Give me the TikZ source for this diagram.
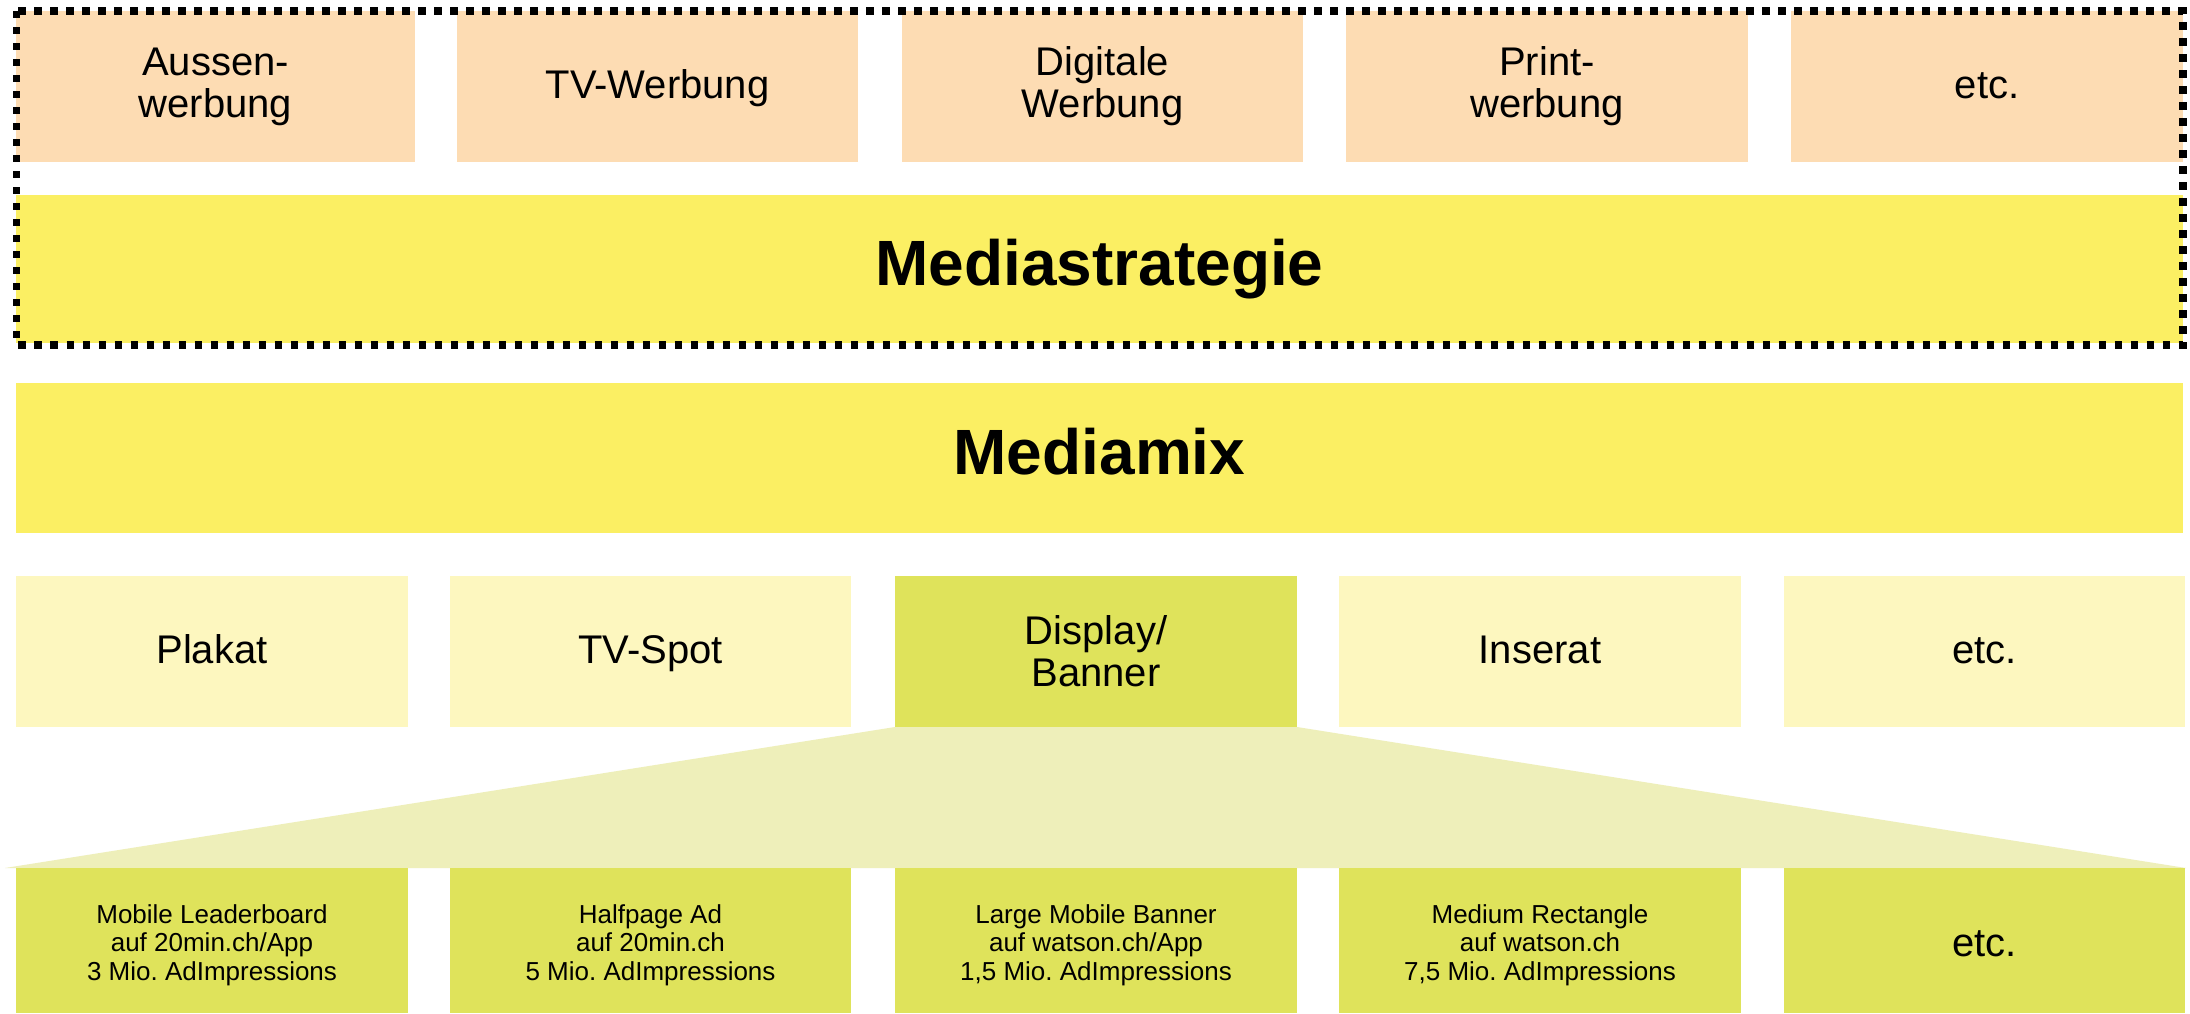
\documentclass[tikz,border=0pt]{standalone}
\usepackage{fontspec}
\setmainfont{Liberation Sans}
\frenchspacing
\definecolor{cOrange}{HTML}{FDDCB3}
\definecolor{cYellow}{HTML}{FBEF63}
\definecolor{cLight}{HTML}{FDF7BF}
\definecolor{cLime}{HTML}{DFE35B}
\definecolor{cTrap}{HTML}{EEEFBA}
\newcommand{\smalllines}[1]{\raisebox{-2.8pt}[\height][\depth]{\begin{tabular}{@{}c@{}}#1\end{tabular}}}
\begin{document}
\begin{tikzpicture}[x=0.5pt,y=-0.5pt,
  box/.style={rectangle, inner sep=0pt, outer sep=0pt, align=center, text=black,
    font=\fontsize{20}{21}\selectfont},
  oneline/.style={text height=16pt, text depth=4pt},
  toprow/.style={box, fill=cOrange, minimum height=75.5pt},
  midrow/.style={box, fill=cLight, minimum height=75.5pt},
  botrow/.style={box, fill=cLime, minimum height=72.5pt},
  small/.style={align=none, font=\fontsize{13}{14.3}\selectfont},
  band/.style={box, text height=23pt, text depth=6.4pt, fill=cYellow, minimum width=1083.5pt, font=\fontsize{32}{34}\selectfont\bfseries},
  dotframe/.style={draw=black, line width=3.6pt, dash pattern=on 3.6pt off 4.4pt}
]
\useasboundingbox (0,0) rectangle (2190,1013);
\fill[white] (0,0) rectangle (2190,1013);

% top row
\node[toprow, minimum width=199.5pt] (t1) at (215.5,86.5) {Aussen-\\werbung};
\node[toprow, oneline, minimum width=200.5pt] (t2) at (657.5,86.5) {TV-Werbung};
\node[toprow, minimum width=200.5pt] (t3) at (1102.5,86.5) {Digitale\\Werbung};
\node[toprow, minimum width=201pt] (t4) at (1547,86.5) {Print-\\werbung};
\node[toprow, oneline, minimum width=196pt] (t5) at (1987,86.5) {etc.};

% bands
\node[band, minimum height=74pt] (strat) at (1099.5,269) {Mediastrategie};
\node[band, minimum height=75pt] (mix) at (1099.5,458) {Mediamix};

% dotted frame
\coordinate (f1) at (16.5,11);
\coordinate (f2) at (2183,345);
\draw[dotframe] (f1) rectangle (f2);

% middle row
\node[midrow, oneline, minimum width=196pt] (m1) at (212,651.5) {Plakat};
\node[midrow, oneline, minimum width=200.5pt] (m2) at (650.5,651.5) {TV-Spot};
\node[midrow, fill=cLime, minimum width=201pt] (m3) at (1096,651.5) {Display/\\Banner};
\node[midrow, oneline, minimum width=201pt] (m4) at (1540,651.5) {Inserat};
\node[midrow, oneline, minimum width=200.5pt] (m5) at (1984.5,651.5) {etc.};

% trapezoid
\coordinate (bl) at (5,868);
\coordinate (br) at (2186,868);
\fill[cTrap] (m3.south west) -- (m3.south east) -- (br) -- (bl) -- cycle;

% bottom row
\node[botrow, small, minimum width=196pt] (b1) at (212,940.5) {\smalllines{Mobile Leaderboard\\auf 20min.ch/App\\3 Mio. AdImpressions}};
\node[botrow, small, minimum width=200.5pt] (b2) at (650.5,940.5) {\smalllines{Halfpage Ad\\auf 20min.ch\\5 Mio. AdImpressions}};
\node[botrow, small, minimum width=201pt] (b3) at (1096,940.5) {\smalllines{Large Mobile Banner\\auf watson.ch/App\\1,5 Mio. AdImpressions}};
\node[botrow, small, minimum width=201pt] (b4) at (1540,940.5) {\smalllines{Medium Rectangle\\auf watson.ch\\7,5 Mio. AdImpressions}};
\node[botrow, minimum width=200.5pt, text height=19.5pt, text depth=4pt] (b5) at (1984.5,940.5) {etc.};
\end{tikzpicture}
\end{document}
